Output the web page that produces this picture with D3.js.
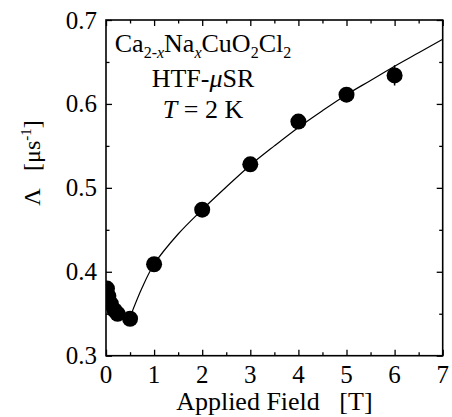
<!DOCTYPE html>
<html><head><meta charset="utf-8">
<script src="https://cdn.jsdelivr.net/npm/d3@7"></script>
<style>body{margin:0;background:#fff}svg{display:block}text{font-family:"Liberation Serif","Times New Roman",serif;fill:#000}</style>
</head><body><svg id="c" width="452" height="417"></svg>
<script>
// Data
const fieldT  = [0.02, 0.05, 0.10, 0.18, 0.24, 0.5, 1, 2, 3, 4, 5, 6];
const lambda  = [0.380, 0.371, 0.362, 0.354, 0.350, 0.344, 0.409, 0.474, 0.528, 0.579, 0.611, 0.634];
const lambdaErr = [0, 0, 0, 0, 0, 0, 0, 0, 0, 0, 0, 0.012];
const fitField  = [0.5, 0.75, 1, 1.5, 2, 2.5, 3, 3.5, 4, 4.5, 5, 5.5, 6, 6.5, 7];
const fitLambda = [0.346, 0.381, 0.409, 0.445, 0.474, 0.501, 0.527, 0.550, 0.572, 0.592, 0.611, 0.628, 0.645, 0.661, 0.677];
const xTicks = [0, 1, 2, 3, 4, 5, 6, 7];
const yTicks = [0.3, 0.4, 0.5, 0.6, 0.7];

const svg = d3.select("#c");
const L = 106, R = 442.7, T = 20, B = 355.7;
const x = d3.scaleLinear().domain([0, 7]).range([L, R]);
const y = d3.scaleLinear().domain([0.3, 0.7]).range([B, T]);

svg.append("clipPath").attr("id","clip").append("rect")
  .attr("x", L).attr("y", T).attr("width", R-L).attr("height", B-T);

const xMinor = d3.range(0, 7.01, 0.5);
const yMinor = d3.range(0.3, 0.7001, 0.05);
const isMajX = v => Math.abs(v - Math.round(v)) < 1e-6;
const isMajY = v => Math.abs(v*10 - Math.round(v*10)) < 1e-6;

// axes (ticks inward on all four sides)
const gB = svg.append("g").attr("transform", `translate(0,${B})`)
  .call(d3.axisBottom(x).tickValues(xMinor).tickSize(0).tickFormat(""));
gB.selectAll(".tick line").attr("y2", d => isMajX(d) ? -6 : -3.5);
const gT = svg.append("g").attr("transform", `translate(0,${T})`)
  .call(d3.axisTop(x).tickValues(xMinor).tickSize(0).tickFormat(""));
gT.selectAll(".tick line").attr("y2", d => isMajX(d) ? 6 : 3.5);
const gL = svg.append("g").attr("transform", `translate(${L},0)`)
  .call(d3.axisLeft(y).tickValues(yMinor).tickSize(0).tickFormat(""));
gL.selectAll(".tick line").attr("x2", d => isMajY(d) ? 6 : 3.5);
const gR = svg.append("g").attr("transform", `translate(${R},0)`)
  .call(d3.axisRight(y).tickValues(yMinor).tickSize(0).tickFormat(""));
gR.selectAll(".tick line").attr("x2", d => isMajY(d) ? -6 : -3.5);
svg.selectAll(".domain").remove();
svg.selectAll(".tick line").attr("stroke", "#000").attr("stroke-width", 1.3);

svg.append("rect").attr("x", L).attr("y", T).attr("width", R-L).attr("height", B-T)
  .attr("fill", "none").attr("stroke", "#000").attr("stroke-width", 1.6);

// tick labels
svg.selectAll(".xl").data(xTicks).enter().append("text")
  .attr("x", d => x(d)).attr("y", 383).attr("text-anchor", "middle")
  .attr("font-size", 25).text(d => d);
svg.selectAll(".yl").data(yTicks).enter().append("text")
  .attr("x", 97).attr("y", d => y(d) + 8.5).attr("text-anchor", "end")
  .attr("font-size", 25).text(d => d.toFixed(1));

// axis titles
svg.append("text").attr("x", (L+R)/2).attr("y", 410).attr("text-anchor", "middle")
  .attr("font-size", 26).attr("xml:space", "preserve").text("Applied Field   [T]");
const yl = svg.append("text").attr("transform", "translate(40,163) rotate(-90)")
  .attr("text-anchor", "middle").attr("font-size", 24).attr("xml:space", "preserve");
yl.append("tspan").text("Λ   [μs");
yl.append("tspan").attr("font-size", 15).attr("dy", -9).text("-1");
yl.append("tspan").attr("dy", 9).text("]");

// fit curve
const line = d3.line().x((d, i) => x(fitField[i])).y(d => y(d)).curve(d3.curveCatmullRom);
svg.append("path").datum(fitLambda).attr("d", line).attr("fill", "none")
  .attr("stroke", "#000").attr("stroke-width", 1.2).attr("clip-path", "url(#clip)");

// error bars
const pg = svg.append("g").attr("clip-path", "url(#clip)");
pg.selectAll(".eb").data(fieldT.map((f, i) => i).filter(i => lambdaErr[i] > 0)).enter()
  .append("line").attr("x1", i => x(fieldT[i])).attr("x2", i => x(fieldT[i]))
  .attr("y1", i => y(lambda[i] - lambdaErr[i])).attr("y2", i => y(lambda[i] + lambdaErr[i]))
  .attr("stroke", "#000").attr("stroke-width", 1.5);
// points
pg.selectAll(".pt").data(fieldT).enter().append("circle")
  .attr("cx", d => x(d)).attr("cy", (d, i) => y(lambda[i])).attr("r", 8).attr("fill", "#000");

// annotation
const cx = 203;
const t1 = svg.append("text").attr("x", cx).attr("y", 52).attr("text-anchor", "middle").attr("font-size", 26);
t1.append("tspan").text("Ca");
t1.append("tspan").attr("font-size", 16).attr("dy", 6).text("2-");
t1.append("tspan").attr("font-size", 16).attr("font-style", "italic").text("x");
t1.append("tspan").attr("dy", -6).text("Na");
t1.append("tspan").attr("font-size", 16).attr("font-style", "italic").attr("dy", 6).text("x");
t1.append("tspan").attr("dy", -6).text("CuO");
t1.append("tspan").attr("font-size", 16).attr("dy", 6).text("2");
t1.append("tspan").attr("dy", -6).text("Cl");
t1.append("tspan").attr("font-size", 16).attr("dy", 6).text("2");
const t2 = svg.append("text").attr("x", cx).attr("y", 87).attr("text-anchor", "middle").attr("font-size", 26);
t2.append("tspan").text("HTF-");
t2.append("tspan").attr("font-style", "italic").text("μ");
t2.append("tspan").text("SR");
const t3 = svg.append("text").attr("x", cx).attr("y", 118).attr("text-anchor", "middle").attr("font-size", 26);
t3.append("tspan").attr("font-style", "italic").text("T");
t3.append("tspan").text(" = 2 K");
</script></body></html>
